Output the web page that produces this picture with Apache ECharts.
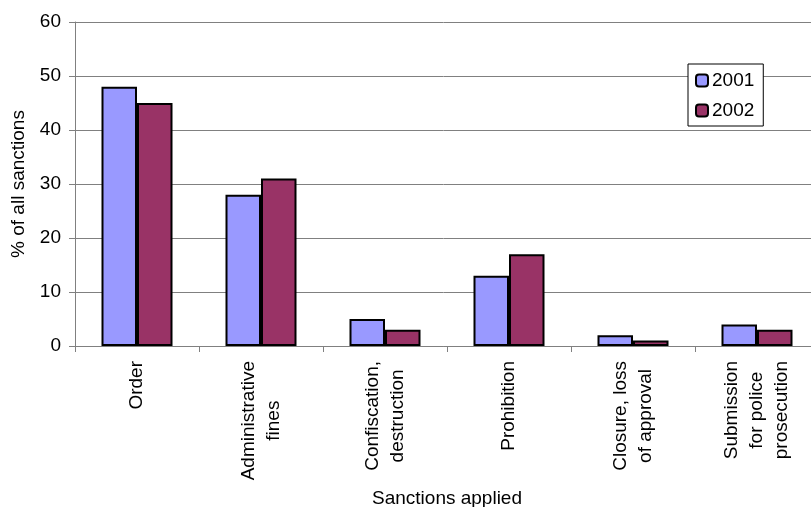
<!DOCTYPE html>
<html>
<head>
<meta charset="utf-8">
<script src="https://cdn.jsdelivr.net/npm/echarts@6/dist/echarts.min.js"></script>
<style>
html,body{margin:0;padding:0;background:#fff;}
#chart{width:811px;height:507px;}
</style>
</head>
<body>
<div id="chart"></div>
<script>
const categories = ['Order', 'Administrative\nfines', 'Confiscation,\ndestruction', 'Prohibition', 'Closure, loss\nof approval', 'Submission\nfor police\nprosecution'];
const values2001 = [48, 28, 5, 13, 2, 4];
const values2002 = [45, 31, 3, 17, 1, 3];
const seriesNames = ['2001', '2002'];
const yTicks = { min: 0, max: 60, interval: 10 };

const FONT = 'Arial, "Liberation Sans", sans-serif';
const FS = 19;
const chart = echarts.init(document.getElementById('chart'));
chart.setOption({
  animation: false,
  backgroundColor: '#fff',
  textStyle: { fontFamily: FONT, color: '#000' },
  grid: { left: 75, top: 22, width: 744, height: 324, outerBoundsMode: 'none', containLabel: false },
  legend: {
    orient: 'vertical',
    left: 688, top: 64,
    padding: [7, 9, 6, 7],
    itemWidth: 12, itemHeight: 12, itemGap: 11,
    backgroundColor: '#fff',
    borderColor: '#000', borderWidth: 1,
    textStyle: { fontFamily: FONT, fontSize: FS, color: '#000', lineHeight: 18, padding: [0,0,0,-1] },
    data: seriesNames
  },
  xAxis: {
    type: 'category',
    data: categories,
    name: 'Sanctions applied',
    nameLocation: 'middle',
    nameGap: 143,
    nameTextStyle: { fontFamily: FONT, fontSize: FS, color: '#000' },
    axisLine: { lineStyle: { color: '#808080', width: 1 } },
    axisTick: { show: true, length: 6, lineStyle: { color: '#808080' } },
    axisLabel: {
      rotate: 90,
      margin: 15,
      interval: 0,
      color: '#000',
      fontFamily: FONT,
      fontSize: FS,
      lineHeight: 25,
      formatter: function (v) { return v.split('\n').map(function (l) { return '{c|' + l + '}'; }).join('\n'); },
      rich: { c: { align: 'center', fontFamily: FONT, fontSize: FS, lineHeight: 25, color: '#000' } }
    },
    splitLine: { show: false }
  },
  yAxis: {
    type: 'value',
    min: yTicks.min, max: yTicks.max, interval: yTicks.interval,
    name: '% of all sanctions',
    nameLocation: 'middle',
    nameGap: 47,
    nameTextStyle: { fontFamily: FONT, fontSize: FS, color: '#000' },
    axisLine: { show: true, lineStyle: { color: '#808080', width: 1 } },
    axisTick: { show: true, length: 6, lineStyle: { color: '#808080' } },
    axisLabel: { margin: 14, color: '#000', fontFamily: FONT, fontSize: FS },
    splitLine: { show: true, lineStyle: { color: '#808080', width: 1 } }
  },
  series: [
    {
      name: seriesNames[0], type: 'bar', data: values2001,
      barWidth: 35.5, barGap: '0%',
      itemStyle: { color: '#9999FF', borderColor: '#000', borderWidth: 2 }
    },
    {
      name: seriesNames[1], type: 'bar', data: values2002,
      barWidth: 35.5, barGap: '0%',
      itemStyle: { color: '#993366', borderColor: '#000', borderWidth: 2 }
    }
  ]
});
</script>
</body>
</html>
